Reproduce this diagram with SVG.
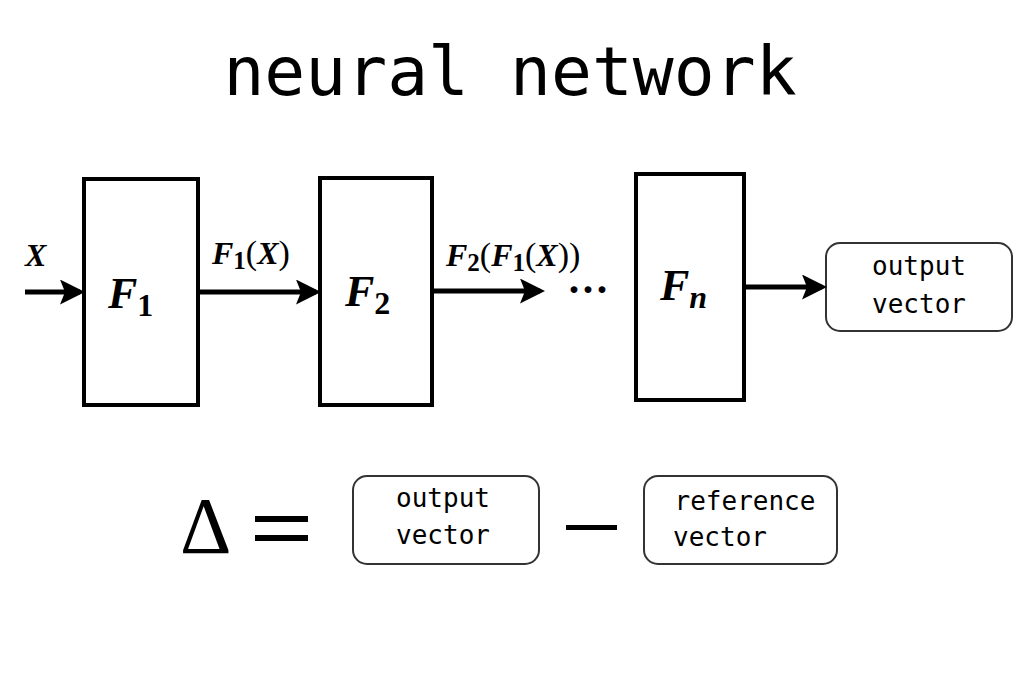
<svg xmlns="http://www.w3.org/2000/svg" width="1024" height="688" viewBox="0 0 1024 688">
<style>
.box{fill:#fff;stroke:#000;stroke-width:4}
.rb{fill:#fff;stroke:#333;stroke-width:2}
.m{font-family:"DejaVu Sans Mono",monospace;fill:#000}
.mi{font-family:"Liberation Serif",serif;font-style:italic;font-weight:bold;fill:#000}
.mr{font-family:"Liberation Serif",serif;fill:#000}
.c{stroke:#000;stroke-width:5;fill:none}
</style>
<defs><marker id="a" markerWidth="5" markerHeight="5" refX="4" refY="2.5" orient="auto"><path d="M0,0L5,2.5L0,5L1,2.5z" fill="#000"/></marker></defs>
<rect width="1024" height="688" fill="#fff"/>
<text class="m" x="510" y="95" font-size="68" text-anchor="middle">neural network</text>
<g id="F1"><rect class="box" x="84" y="179" width="114" height="226"/><text class="mi" x="108" y="308" font-size="44">F<tspan font-size="32" font-style="normal" dy="8">1</tspan></text></g>
<g id="F2"><rect class="box" x="320" y="178" width="112" height="227"/><text class="mi" x="345" y="306" font-size="44">F<tspan font-size="32" font-style="normal" dy="8">2</tspan></text></g>
<g id="Fn"><rect class="box" x="636" y="174" width="108" height="226"/><text class="mi" x="660" y="300" font-size="44">F<tspan font-size="32" dy="8">n</tspan></text></g>
<g id="out"><rect class="rb" x="826" y="243" width="186" height="88" rx="14"/><text class="m" x="919" y="275" font-size="26" text-anchor="middle">output</text><text class="m" x="919" y="313" font-size="26" text-anchor="middle">vector</text></g>
<g id="connectors">
<line class="c" x1="25" y1="292" x2="80" y2="292" marker-end="url(#a)"/>
<line class="c" x1="198" y1="292" x2="316" y2="292" marker-end="url(#a)"/>
<line class="c" x1="432" y1="291" x2="540" y2="291" marker-end="url(#a)"/>
<line class="c" x1="744" y1="287" x2="822" y2="287" marker-end="url(#a)"/>
</g>
<text class="mi" x="25" y="266" font-size="32">X</text>
<text class="mi" x="212" y="264" font-size="32">F<tspan font-size="25" font-style="normal" dy="5">1</tspan><tspan font-weight="normal" font-style="normal" font-size="34" dy="-5">(</tspan>X<tspan font-weight="normal" font-style="normal" font-size="34">)</tspan></text>
<text class="mi" x="446" y="266" font-size="32">F<tspan font-size="25" font-style="normal" dy="5">2</tspan><tspan font-weight="normal" font-style="normal" font-size="34" dy="-5">(</tspan>F<tspan font-size="25" font-style="normal" dy="5">1</tspan><tspan font-weight="normal" font-style="normal" font-size="34" dy="-5">(</tspan>X<tspan font-weight="normal" font-style="normal" font-size="34">))</tspan></text>
<text class="mr" x="567" y="304" font-size="42" font-weight="bold">···</text>
<text class="mr" x="180" y="553" font-size="80">Δ</text>
<rect x="255" y="516" width="53" height="6" fill="#000"/>
<rect x="255" y="535" width="53" height="6" fill="#000"/>
<g id="out2"><rect class="rb" x="353" y="476" width="186" height="88" rx="14"/><text class="m" x="443" y="507" font-size="26" text-anchor="middle">output</text><text class="m" x="443" y="544" font-size="26" text-anchor="middle">vector</text></g>
<rect x="566" y="525" width="51" height="5" fill="#000"/>
<g id="ref"><rect class="rb" x="644" y="476" width="193" height="88" rx="14"/><text class="m" x="745" y="510" font-size="26" text-anchor="middle">reference</text><text class="m" x="720" y="546" font-size="26" text-anchor="middle">vector</text></g>
</svg>
